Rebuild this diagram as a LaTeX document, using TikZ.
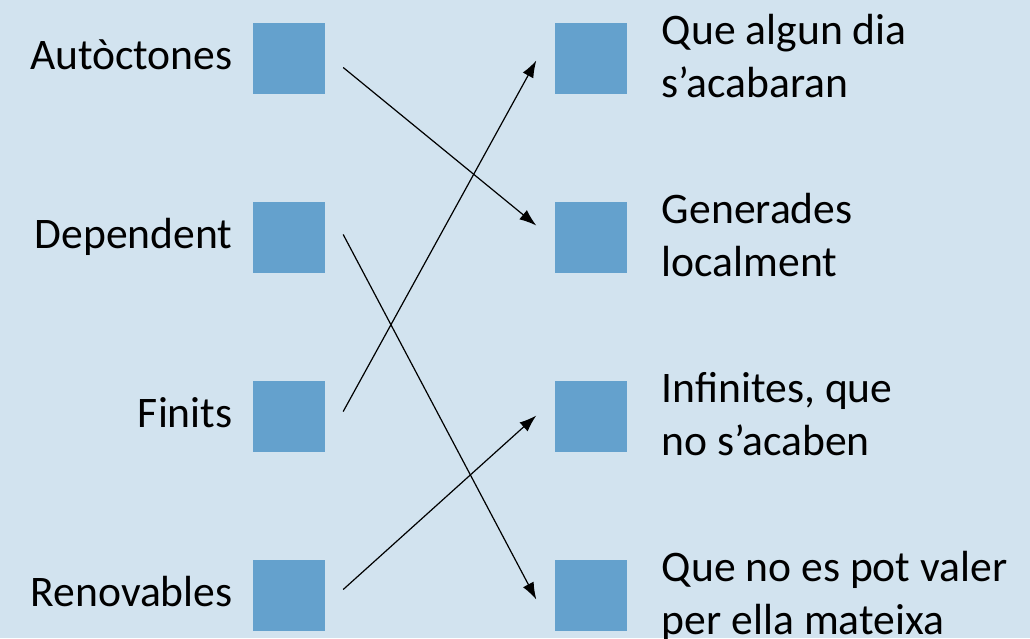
\documentclass[tikz,border=0pt]{standalone}
\usepackage{fontspec}
\setmainfont{Carlito}
\usetikzlibrary{arrows.meta}
\definecolor{fons}{RGB}{210,227,239}
\definecolor{quadre}{RGB}{100,161,205}

\begin{document}
\begin{tikzpicture}[x=1pt,y=-1pt,
    quad/.style={fill=quadre,minimum width=72pt,minimum height=71pt,inner sep=0pt},
    etiq/.style={font=\fontsize{43.6}{53.5}\selectfont,inner sep=0pt},
    fletxa/.style={-{Latex[length=17pt,width=12pt]},line width=1.2pt}]
    \useasboundingbox (0,0) rectangle (1030,638);
    \fill[fons] (0,0) rectangle (1030,638);
    % columna esquerra
    \node[quad] (aut) at (289,58.5){};
    \node[quad] (dep) at (289,237.5){};
    \node[quad] (fin) at (289,416.5){};
    \node[quad] (ren) at (289,595.5){};
    \node[etiq,anchor=east] (taut) at ([xshift=-20pt]aut.west) {\strut Autòctones};
    \node[etiq,anchor=east] (tdep) at ([xshift=-20pt]dep.west) {\strut Dependent};
    \node[etiq,anchor=east] (tfin) at ([xshift=-20pt]fin.west) {\strut Finits};
    \node[etiq,anchor=east] (tren) at ([xshift=-20pt]ren.west) {\strut Renovables};
    % columna dreta
    \node[quad] (que) at (590.5,58.5){};
    \node[quad] (gen) at (590.5,237.5){};
    \node[quad] (inf) at (590.5,416.5){};
    \node[quad] (val) at (590.5,595.5){};
    \node[etiq,anchor=west,align=left] (tque) at ([xshift=35pt,yshift=-2pt]que.east) {\strut Que algun dia\\\strut s’acabaran};
    \node[etiq,anchor=west,align=left] (tgen) at ([xshift=35pt,yshift=-2pt]gen.east) {\strut Generades\\\strut localment};
    \node[etiq,anchor=west,align=left] (tinf) at ([xshift=35pt,yshift=-2pt]inf.east) {\strut Infinites, que\\\strut no s’acaben};
    \node[etiq,anchor=west,align=left] (tval) at ([xshift=35pt,yshift=-2pt]val.east) {\strut Que no es pot valer\\\strut per ella mateixa};
    % fletxes
    \draw[fletxa] ([xshift=18pt,yshift=-9pt]aut.east) -- ([xshift=-18pt,yshift=12pt]gen.west);
    \draw[fletxa] ([xshift=18pt,yshift=3pt]dep.east) -- ([xshift=-18pt,yshift=-4pt]val.west);
    \draw[fletxa] ([xshift=18pt,yshift=5pt]fin.east) -- ([xshift=-18pt,yshift=-2pt]que.west);
    \draw[fletxa] ([xshift=18pt,yshift=6pt]ren.east) -- ([xshift=-18pt,yshift=1pt]inf.west);
\end{tikzpicture}
\end{document}
